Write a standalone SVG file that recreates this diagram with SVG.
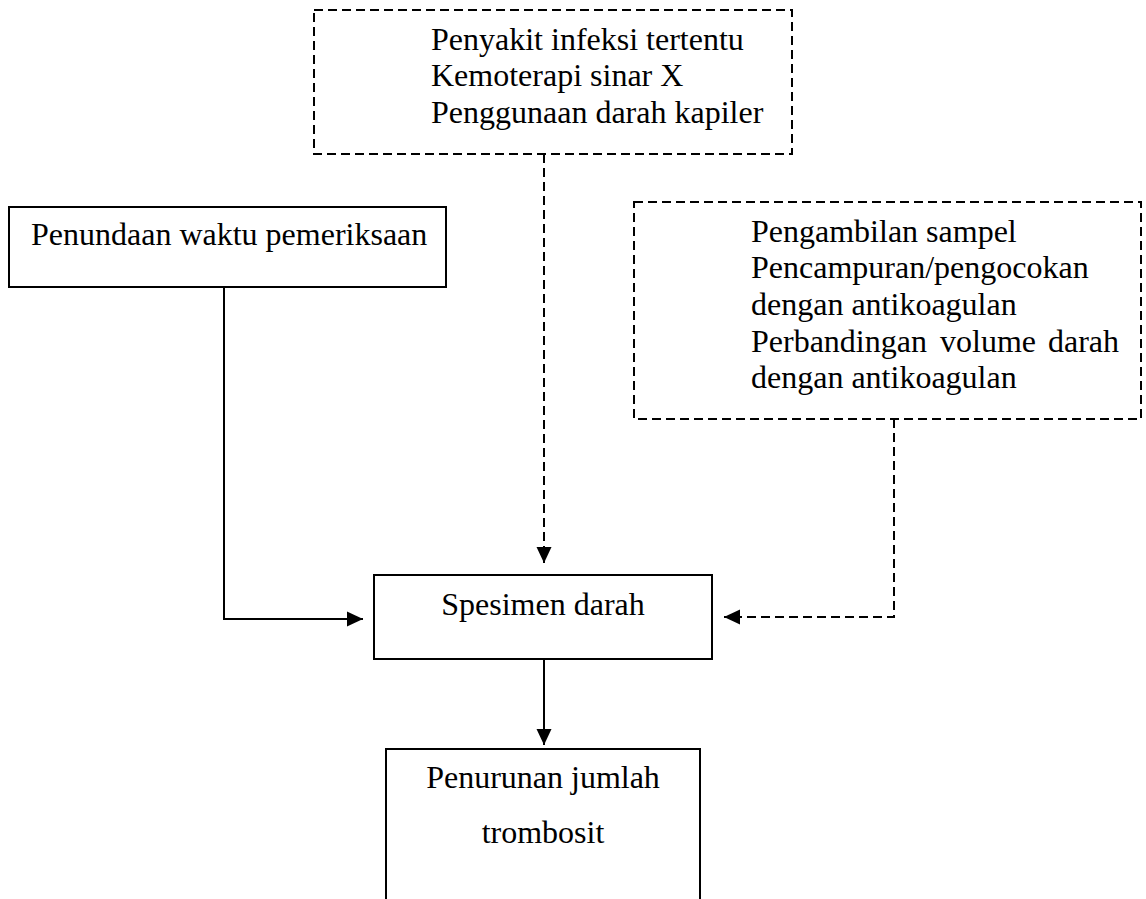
<svg xmlns="http://www.w3.org/2000/svg" width="1146" height="899" viewBox="0 0 1146 899">
<style>
text{font-family:"Liberation Serif","Times New Roman",serif;font-size:32px;fill:#000}
.box{fill:#fff;stroke:#000;stroke-width:2}
.dbox{fill:#fff;stroke:#000;stroke-width:2;stroke-dasharray:9 5}
.line{fill:none;stroke:#000;stroke-width:2}
.dline{fill:none;stroke:#000;stroke-width:2;stroke-dasharray:9 5}
</style>
<defs>
<marker id="arr" markerUnits="userSpaceOnUse" markerWidth="17" markerHeight="17" viewBox="0 0 17 17" refX="16" refY="8.5" orient="auto">
<path d="M0,1 L16,8.5 L0,16 Z" fill="#000"/>
</marker>
</defs>
<rect width="1146" height="899" fill="#fff"/>
<g id="connectors">
<path class="dline" d="M544,154 V563" marker-end="url(#arr)"/>
<path class="line" d="M224,287 V619 H363" marker-end="url(#arr)"/>
<path class="dline" d="M894,419 V617 H724" marker-end="url(#arr)"/>
<path class="line" d="M544,659 V745" marker-end="url(#arr)"/>
</g>
<g id="node-top">
<rect class="dbox" x="314" y="10" width="478" height="144"/>
<text x="431" y="50">Penyakit infeksi tertentu</text>
<text x="431" y="86">Kemoterapi sinar X</text>
<text x="431" y="123">Penggunaan darah kapiler</text>
</g>
<g id="node-left">
<rect class="box" x="9" y="207" width="437" height="80"/>
<text x="31" y="245">Penundaan waktu pemeriksaan</text>
</g>
<g id="node-right">
<rect class="dbox" x="634" y="202" width="507" height="217"/>
<text x="751" y="242">Pengambilan sampel</text>
<text x="751" y="278">Pencampuran/pengocokan</text>
<text x="751" y="315">dengan antikoagulan</text>
<text y="352"><tspan x="751">Perbandingan</tspan><tspan x="940">volume</tspan><tspan x="1119" text-anchor="end">darah</tspan></text>
<text x="751" y="388">dengan antikoagulan</text>
</g>
<g id="node-spesimen">
<rect class="box" x="374" y="575" width="338" height="84"/>
<text x="543" y="615" text-anchor="middle">Spesimen darah</text>
</g>
<g id="node-penurunan">
<rect class="box" x="386" y="749" width="314" height="170"/>
<text x="543" y="788" text-anchor="middle">Penurunan jumlah</text>
<text x="543" y="843" text-anchor="middle">trombosit</text>
</g>
</svg>
